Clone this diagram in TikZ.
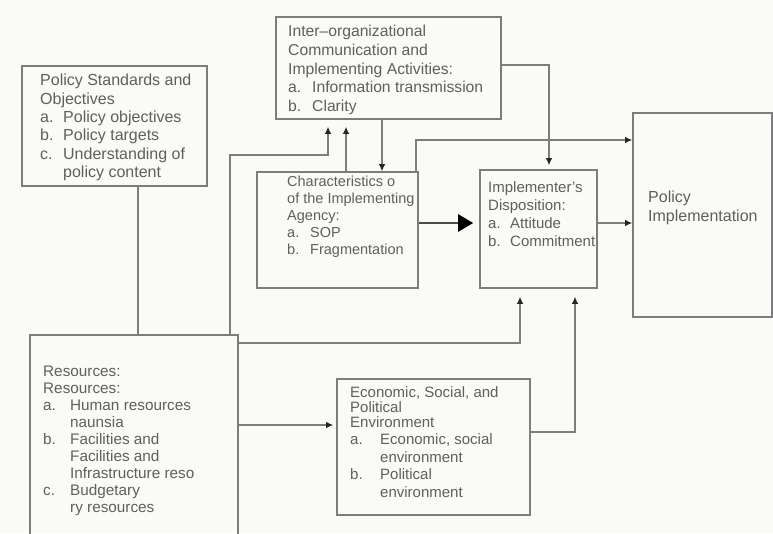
\documentclass[tikz,border=0pt]{standalone}
\usepackage{fontspec}
\setmainfont{Liberation Sans}
\usetikzlibrary{arrows.meta,fit}
\definecolor{bgc}{RGB}{250,250,247}
\definecolor{linec}{RGB}{125,125,125}
\definecolor{txtc}{RGB}{95,95,95}
\newcommand{\itm}[3][23pt]{\makebox[#1][l]{#2}#3}
\newcommand{\cnt}[2][23pt]{\hspace*{#1}#2}
\begin{document}
\begin{tikzpicture}[x=1pt,y=-1pt,
  box/.style={draw=linec, line width=1.6pt, inner sep=0pt},
  txt/.style={anchor=north west, align=left, inner sep=0pt, text=txtc,
    font=\fontsize{16}{18.4}\selectfont},
  conn/.style={draw=linec, line width=1.2pt},
  arr/.style={conn, -{Latex[length=7pt,width=6.5pt,color=black!85]}},
  bigarr/.style={draw=black!70, line width=2.6pt, -{Triangle[length=15pt,width=17pt,color=black]}}]
\useasboundingbox (0,0) rectangle (773,533);
\clip (0,0) rectangle (773,533);
\fill[bgc] (0,0) rectangle (773,533);

% boxes
\node[box, fit={(22,66) (207,186)}] (ps) {};
\node[box, fit={(276,17) (501,119)}] (io) {};
\node[box, fit={(257,172) (418,288)}] (ch) {};
\node[box, fit={(480,170) (597,288)}] (id) {};
\node[box, fit={(633,113) (772,317)}] (pi) {};
\node[box, fit={(30,335) (238,560)}] (rs) {};
\node[box, fit={(337,379) (530,515)}] (ec) {};

% texts
\node[txt] (pst) at (40,74) {Policy Standards and\\Objectives\\\itm{a.}{Policy objectives}\\\itm{b.}{Policy targets}\\\itm{c.}{Understanding of}\\\cnt{policy content}};
\node[txt, font=\fontsize{15.7}{18.8}\selectfont] (iot) at (288,25) {Inter–organizational\\Communication and\\Implementing Activities:\\\itm[24pt]{a.}{Information transmission}\\\itm[24pt]{b.}{Clarity}};
\node[txt, font=\fontsize{14.5}{17}\selectfont] (cht) at (287,176) {Characteristics o\\of the Implementing\\Agency:\\\itm{a.}{SOP}\\\itm{b.}{Fragmentation}};
\node[txt, font=\fontsize{15}{18}\selectfont] (idt) at (488,181) {Implementer's\\Disposition:\\\itm[22pt]{a.}{Attitude}\\\itm[22pt]{b.}{Commitment}};
\node[txt, font=\fontsize{16}{19}\selectfont] (pit) at (648,191) {Policy\\Implementation};
\node[txt, font=\fontsize{15.3}{17}\selectfont] (rst) at (43,366) {Resources:\\Resources:\\\itm[27pt]{a.}{Human resources}\\\cnt[27pt]{naunsia}\\\itm[27pt]{b.}{Facilities and}\\\cnt[27pt]{Facilities and}\\\cnt[27pt]{Infrastructure reso}\\\itm[27pt]{c.}{Budgetary}\\\cnt[27pt]{ry resources}};
\node[txt, font=\fontsize{15}{17.5}\selectfont] (ect) at (350,386) {Economic, Social, and\\[-2.5pt]Political\\[-2.5pt]Environment\\\itm[30pt]{a.}{Economic, social}\\\cnt[30pt]{environment}\\\itm[30pt]{b.}{Political}\\\cnt[30pt]{environment}};

% connectors
\draw[conn] (ps.south -| 138,0) -- (rs.north -| 138,0);
\draw[arr, shorten >=7pt] (rs.north -| 230,0) |- (328,155) -- (io.south -| 328,0);
\draw[arr, shorten >=7pt] (ch.north -| 346,0) -- (io.south -| 346,0);
\draw[arr] (io.south -| 382,0) -- (ch.north -| 382,0);
\draw[arr] (ch.north -| 416,0) |- (pi.west |- 0,140);
\draw[arr, shorten >=4pt] (io.east |- 0,65) -| (id.north -| 549,0);
\draw[bigarr, shorten >=6pt] (ch.east |- 0,223) -- (id.west |- 0,223);
\draw[arr] (id.east |- 0,223) -- (pi.west |- 0,223);
\draw[arr, shorten >=8pt] (rs.east |- 0,343) -| (id.south -| 520,0);
\draw[arr, shorten >=3pt] (rs.east |- 0,425) -- (ec.west |- 0,425);
\draw[arr, shorten >=8pt] (ec.east |- 0,432) -| (id.south -| 575,0);
\end{tikzpicture}
\end{document}
